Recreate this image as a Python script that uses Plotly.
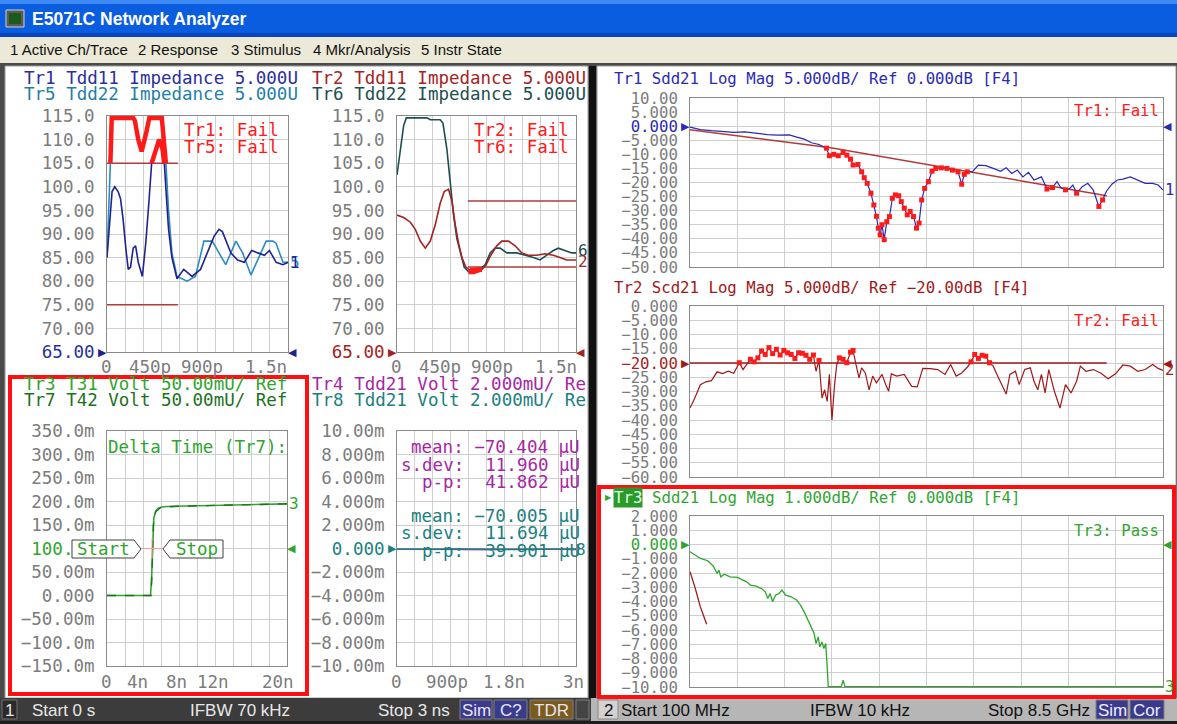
import numpy as np
import plotly.graph_objects as go

W, H = 1177, 724
MONO = "DejaVu Sans Mono, monospace"
SANS = "Liberation Sans, Arial, sans-serif"

# ======================= DATA =======================
# Channel 1 / window 1 : impedance (ohm) vs time (ns)
tr1_time = [0, 0.022, 0.042, 0.064, 0.092, 0.112, 0.134, 0.156, 0.176, 0.195, 0.217, 0.237, 0.259, 0.293,
            0.321, 0.348, 0.370, 0.404, 0.432, 0.460, 0.475, 0.492, 0.510, 0.538, 0.580, 0.636, 0.705, 0.775,
            0.831, 0.887, 0.928, 0.956, 1.026, 1.082, 1.138, 1.199, 1.249, 1.305, 1.346, 1.402, 1.458, 1.500]
tr1_tdd11 = [85, 92, 99, 100, 99, 97.5, 93, 87, 82.5, 83, 87, 87.5, 84, 81, 88, 97, 105, 107.5, 110, 108,
             105, 98, 91, 85, 80.5, 82.5, 81, 82.5, 86, 89.5, 91, 90.5, 86, 84.5, 84, 86.5, 86, 85.5, 86.5,
             84, 83.5, 84]
tr5_time = [0, 0.017, 0.028, 0.039, 0.217, 0.231, 0.259, 0.287, 0.321, 0.351, 0.454, 0.474, 0.488, 0.510,
            0.538, 0.580, 0.664, 0.733, 0.803, 0.873, 0.928, 0.984, 1.068, 1.124, 1.193, 1.277, 1.319, 1.374,
            1.402, 1.458, 1.500]
tr5_tdd22 = [85, 95, 105, 114.6, 114.6, 114, 110, 107.5, 111, 114.6, 114.6, 110, 105, 95, 86, 81, 80, 81,
             88.5, 88.5, 86, 83.5, 88.5, 86, 81.3, 86, 88.5, 88.5, 88, 84, 84]
lim1_time = [0.0, 0.588]
lim1_upper = [105, 105]
lim1_lower = [75, 75]

# Channel 1 / window 2
tr6_time = [0, 0.028, 0.056, 0.078, 0.251, 0.279, 0.362, 0.385, 0.418, 0.446, 0.474, 0.502, 0.530, 0.563,
            0.599, 0.641, 0.697, 0.739, 0.781, 0.822, 0.864, 0.920, 1.004, 1.087, 1.143, 1.199, 1.255, 1.310,
            1.352, 1.408, 1.464, 1.500]
tr6_tdd22 = [102.5, 108, 113, 114.6, 114.6, 114.2, 114.2, 113.5, 108, 101, 94, 89, 86, 83, 82, 82, 82.5,
             83.5, 86, 87, 87, 86, 86, 85.5, 85, 84.5, 85.5, 86.5, 87, 86.5, 86, 86]
tr2_time = [0, 0.056, 0.112, 0.153, 0.195, 0.237, 0.279, 0.321, 0.362, 0.396, 0.432, 0.460, 0.488, 0.516,
            0.544, 0.577, 0.613, 0.669, 0.711, 0.747, 0.786, 0.836, 0.878, 0.934, 0.990, 1.045, 1.101, 1.171,
            1.241, 1.310, 1.366, 1.422, 1.500]
tr2_tdd11 = [94, 93.5, 92.5, 91, 88.5, 87, 88.5, 92, 96.5, 99, 99.5, 97, 92, 88, 85, 83, 82.3, 82.3, 82.5,
             83.5, 85.5, 87.5, 88.5, 88.5, 87.5, 86, 85.5, 85.5, 85.8, 85.5, 85, 84.5, 84.5]
lim2_time = [0.594, 1.5]
lim2_upper = [97, 97]
lim2_lower = [83, 83]

# Channel 1 / window 3 : step voltage (V) vs time (ns)
tr3_time = [0, 4.83, 4.94, 5.06, 5.2, 5.43, 5.69, 6.25, 7.36, 10.33, 14.05, 17.77, 20]
tr3_volt = [0, 0, 0.03, 0.10, 0.165, 0.18, 0.186, 0.189, 0.19, 0.191, 0.193, 0.194, 0.195]
tr7_time = [0, 4.9, 5.0, 5.15, 5.4, 6.0, 8.0, 12.0, 16.0, 20]
tr7_volt = [0, 0, 0.05, 0.15, 0.178, 0.188, 0.19, 0.192, 0.194, 0.195]
delta_marker = (5.0, 0.1)

# Channel 1 / window 4 : crosstalk voltage (V) vs time (ns)
tr4_time = [0, 0.3, 0.6, 0.9, 1.2, 1.5, 1.8, 2.1, 2.4, 2.7, 3.0]
tr4_volt = [-6.0e-5, -8.5e-5, -7.0e-5, -5.5e-5, -8.0e-5, -7.2e-5, -6.5e-5, -9.0e-5, -6.8e-5, -5.8e-5, -7.4e-5]
tr8_volt = [-6.5e-5, -7.5e-5, -8.0e-5, -6.0e-5, -7.0e-5, -7.8e-5, -6.2e-5, -8.4e-5, -6.6e-5, -6.4e-5, -7.0e-5]

# Channel 2 : frequency (GHz)
sdd21_freq = [0.100, 0.284, 0.482, 0.679, 0.877, 1.074, 1.272, 1.469, 1.667, 1.864, 1.996, 2.128, 2.259,
              2.391, 2.523, 2.575, 2.654, 2.733, 2.819, 2.885, 2.950, 2.996, 3.082, 3.148, 3.194, 3.247,
              3.313, 3.365, 3.411, 3.444, 3.477, 3.510, 3.549, 3.595, 3.642, 3.694, 3.747, 3.806, 3.852,
              3.905, 3.958, 4.010, 4.070, 4.122, 4.168, 4.214, 4.267, 4.333, 4.399, 4.465, 4.563, 4.662,
              4.761, 4.860, 4.925, 4.971, 5.024, 5.123, 5.222, 5.353, 5.485, 5.617, 5.715, 5.814, 5.913,
              6.012, 6.110, 6.209, 6.341, 6.439, 6.538, 6.617, 6.683, 6.768, 6.834, 6.900, 6.966, 7.065,
              7.164, 7.262, 7.361, 7.427, 7.493, 7.592, 7.690, 7.789, 7.921, 8.052, 8.184, 8.316, 8.414, 8.500]
sdd21_db = [-0.3, -1.2, -1.6, -1.8, -2.2, -2.0, -2.6, -3.0, -3.2, -3.1, -3.9, -4.6, -5.9, -6.5, -7.8,
            -10.5, -10, -10.5, -9.3, -10.3, -11.7, -13.8, -13.6, -16.2, -18.3, -20.3, -23.8, -28, -32,
            -36.2, -38.6, -35, -40.3, -33.9, -32.1, -25.6, -24.4, -24.7, -26.8, -29.1, -31.5, -30.3, -32.1,
            -36.2, -34.4, -26.2, -22.1, -19.7, -16, -15, -14.8, -15, -15.6, -16.2, -20.6, -17.1, -16.2, -16,
            -13.8, -14, -15, -16, -14.8, -16.8, -15.6, -18, -16.4, -19.1, -18, -22.3, -21.8, -19.7, -21.8,
            -22.6, -22.3, -20.9, -23.8, -21.5, -20.3, -22.7, -28.5, -26.2, -23.2, -20.6, -19.1, -18.8, -18,
            -19.1, -20.3, -20.3, -20.9, -22.7]
sdd21_lim_freq = [0.1, 2.6, 7.5]
sdd21_lim_db = [-1.3, -7.7, -24.7]

scd21_freq = [0.100, 0.186, 0.284, 0.383, 0.482, 0.581, 0.679, 0.778, 0.877, 0.976, 1.041, 1.107, 1.173,
              1.239, 1.305, 1.371, 1.436, 1.502, 1.568, 1.634, 1.700, 1.766, 1.831, 1.897, 1.963, 2.029,
              2.095, 2.160, 2.226, 2.292, 2.338, 2.391, 2.444, 2.490, 2.536, 2.575, 2.621, 2.667, 2.707,
              2.753, 2.819, 2.885, 2.950, 2.996, 3.049, 3.102, 3.148, 3.214, 3.280, 3.345, 3.411, 3.510,
              3.576, 3.628, 3.675, 3.773, 3.905, 4.037, 4.135, 4.234, 4.366, 4.497, 4.629, 4.728, 4.827,
              4.925, 5.024, 5.090, 5.156, 5.222, 5.287, 5.353, 5.419, 5.485, 5.551, 5.650, 5.715, 5.781,
              5.880, 5.946, 6.044, 6.143, 6.209, 6.275, 6.341, 6.406, 6.472, 6.571, 6.670, 6.768, 6.867,
              6.966, 7.032, 7.131, 7.262, 7.394, 7.526, 7.657, 7.789, 7.921, 8.052, 8.184, 8.316, 8.414, 8.500]
scd21_db = [-35.8, -32.3, -27.6, -26.6, -26.2, -23.1, -23.7, -22.9, -23.6, -19.9, -22.3, -20.7, -18.7,
            -19.6, -18.2, -15.8, -17, -14.6, -16.7, -15.2, -17.2, -15.6, -16.4, -17, -18.4, -16.4, -16.6,
            -17.3, -18.7, -17.2, -22.9, -19.1, -32.3, -29.4, -33.5, -24, -40, -27.6, -20.5, -18.2, -18.7,
            -19.9, -16.2, -15.6, -20.7, -25.2, -21.7, -23.5, -29.4, -24.6, -27, -24, -27.6, -29.9, -23.8,
            -24.6, -24, -28.2, -28.4, -21.9, -22, -22.3, -24, -20.5, -24.6, -23.5, -21.5, -19.6, -17, -18.4,
            -17.3, -17.6, -19.9, -21.1, -24, -28.2, -30.9, -24, -22.9, -27.6, -22.3, -21.7, -26.4, -29.4,
            -24, -30.5, -22.3, -29.9, -35.8, -27.6, -30.5, -26.4, -21.1, -22.9, -22.3, -23.5, -25.5, -23.8,
            -20.7, -21.1, -22.9, -22.3, -20.5, -21.9, -22.6]
scd21_lim_freq = [0.1, 7.5]
scd21_lim_db = [-20, -20]

tr3c2_freq = [0.100, 0.186, 0.284, 0.416, 0.515, 0.581, 0.614, 0.646, 0.712, 0.811, 0.943, 1.041, 1.107,
              1.173, 1.272, 1.371, 1.436, 1.482, 1.522, 1.568, 1.621, 1.680, 1.733, 1.798, 1.897, 1.996,
              2.062, 2.128, 2.193, 2.259, 2.305, 2.338, 2.378, 2.404, 2.444, 2.477, 2.510, 2.536, 2.555,
              2.786, 2.819, 2.852, 8.500]
tr3c2_db = [-0.51, -0.74, -0.98, -1.14, -1.52, -2.03, -1.80, -2.27, -2.08, -2.27, -2.31, -2.50, -2.62,
            -2.85, -2.92, -3.09, -3.32, -3.79, -3.44, -4.02, -3.55, -3.44, -3.20, -3.55, -3.67, -3.91, -4.26,
            -4.73, -5.31, -5.78, -6.25, -6.95, -6.48, -7.19, -6.84, -7.30, -6.95, -8.59, -9.98, -9.98, -9.53,
            -9.98, -9.98]
red_short_freq = [0.100, 0.186, 0.284, 0.350, 0.396]
red_short_db = [-1.91, -2.97, -4.38, -5.08, -5.59]

# tick labels
imp_ticks = [65, 70, 75, 80, 85, 90, 95, 100, 105, 110, 115]
imp_labels = ["65.00", "70.00", "75.00", "80.00", "85.00", "90.00", "95.00", "100.0", "105.0", "110.0", "115.0"]
v50_ticks = [-0.15, -0.10, -0.05, 0, 0.05, 0.10, 0.15, 0.20, 0.25, 0.30, 0.35]
v50_labels = ["−150.0m", "−100.0m", "−50.00m", "0.000", "50.00m", "100.0m", "150.0m", "200.0m", "250.0m",
              "300.0m", "350.0m"]
v2_ticks = [-0.010, -0.008, -0.006, -0.004, -0.002, 0, 0.002, 0.004, 0.006, 0.008, 0.010]
v2_labels = ["−10.00m", "−8.000m", "−6.000m", "−4.000m", "−2.000m", "0.000", "2.000m", "4.000m", "6.000m",
             "8.000m", "10.00m"]
r1_ticks = [-50, -45, -40, -35, -30, -25, -20, -15, -10, -5, 0, 5, 10]
r1_labels = ["−50.00", "−45.00", "−40.00", "−35.00", "−30.00", "−25.00", "−20.00", "−15.00", "−10.00",
             "−5.000", "0.000", "5.000", "10.00"]
r2_ticks = [-60, -55, -50, -45, -40, -35, -30, -25, -20, -15, -10, -5, 0]
r2_labels = ["−60.00", "−55.00", "−50.00", "−45.00", "−40.00", "−35.00", "−30.00", "−25.00", "−20.00",
             "−15.00", "−10.00", "−5.000", "0.000"]
r3_ticks = [-10, -9, -8, -7, -6, -5, -4, -3, -2, -1, 0, 1, 2]
r3_labels = ["−10.00", "−9.000", "−8.000", "−7.000", "−6.000", "−5.000", "−4.000", "−3.000", "−2.000",
             "−1.000", "0.000", "1.000", "2.000"]

# ======================= STYLE =======================
NAVY_T, NAVY = "#2b2f9e", "#1f2392"
TEAL5_T, TEAL5 = "#1f7fa6", "#2b8cbf"
DRED = "#a52323"
SLATE = "#1d4f4f"
GREEN = "#2ea52e"
DGREEN = "#1c721c"
MAG = "#a626a6"
TEAL8 = "#1b7f7f"
RED = "#ff1a1a"
LIM = "#b23a3a"
TICK = "#7c7c7c"
GRID = "#cfcfcf"
FRAME = "#8a8a8a"
RNAVY = "#2a2ab5"

fig = go.Figure()
shapes, annotations = [], []


def rect(x0, y0, x1, y1, fill=None, line=None, lw=0, layer="below"):
    shapes.append(dict(type="rect", xref="paper", yref="paper", x0=x0 / W, x1=x1 / W, y0=1 - y1 / H,
                       y1=1 - y0 / H, fillcolor=fill or "rgba(0,0,0,0)",
                       line=dict(color=line or "rgba(0,0,0,0)", width=lw), layer=layer))


def poly(pts, fill, line, lw=1, layer="above"):
    path = "M " + " L ".join(f"{x / W:.5f},{1 - y / H:.5f}" for x, y in pts) + " Z"
    shapes.append(dict(type="path", xref="paper", yref="paper", path=path, fillcolor=fill,
                       line=dict(color=line, width=lw), layer=layer))


def text(x, y, s, color, size, family=MONO, xanchor="left", **kw):
    annotations.append(dict(x=x / W, y=1 - y / H, xref="paper", yref="paper", text=s, showarrow=False,
                            xanchor=xanchor, yanchor="middle",
                            font=dict(family=family, size=size, color=color), **kw))


# ---- window chrome ----
rect(0, 0, W, 37, fill="#0b5de0")
rect(0, 0, W, 4, fill="#3d8af7")
rect(0, 33, W, 37, fill="#0846c0")
rect(6, 10, 24, 27, fill="#5a5a5a", line="#d0d0d0", lw=1)
rect(9, 13, 21, 24, fill="#1c5a1c")
text(30, 19, "<b>E5071C Network Analyzer</b>", "white", 17.5, family=SANS)
rect(0, 37, W, 63, fill="#ece9d8")
for xm, s in [(8, "1 Active Ch/Trace"), (136, "2 Response"), (229, "3 Stimulus"), (311, "4 Mkr/Analysis"),
              (419, "5 Instr State")]:
    text(xm, 49, s, "#111111", 15, family=SANS)

rect(5, 66, 588, 698, fill="white", line="#9a9a9a", lw=1)
rect(589, 66, 596, 698, fill="#111111")
rect(597, 66, 1176, 698, fill="white", line="#9a9a9a", lw=1)

# status bars
SB = 17
rect(0, 698, 591, 721, fill="#3c3c3c")
rect(2, 700, 17, 719, fill="#2a2a2a", line="#707070", lw=1)
text(9.5, 710, "1", "#e8e8e8", SB, family=SANS, xanchor="center")
text(30, 710, "Start 0 s", "#e8e8e8", SB, family=SANS)
text(188, 710, "IFBW 70 kHz", "#e8e8e8", SB, family=SANS)
text(376, 710, "Stop 3 ns", "#e8e8e8", SB, family=SANS)
for x0, x1, s, bg in [(460, 492, "Sim", "#3b3b8e"), (494, 527, "C?", "#3b3b8e"), (530, 573, "TDR", "#7c5b1c")]:
    rect(x0, 700, x1, 719, fill=bg, line="#808080", lw=1)
    text((x0 + x1) / 2, 710, s, "#e6e6f0", SB, family=SANS, xanchor="center")
rect(576, 700, 589, 719, fill="#444444", line="#808080", lw=1)
rect(591, 698, W, 721, fill="#b6b6b6")
rect(598, 700, 618, 719, fill="#d2d2d2", line="#8a8a8a", lw=1)
text(608, 710, "2", "#111111", SB, family=SANS, xanchor="center")
text(619, 710, "Start 100 MHz", "#111111", SB, family=SANS)
text(808, 710, "IFBW 10 kHz", "#111111", SB, family=SANS)
text(986, 710, "Stop 8.5 GHz", "#111111", SB, family=SANS)
for x0, x1, s in [(1096, 1128, "Sim"), (1130, 1164, "Cor")]:
    rect(x0, 700, x1, 719, fill="#3b3b8e", line="#808080", lw=1)
    text((x0 + x1) / 2, 710, s, "#eeeeff", SB, family=SANS, xanchor="center")
rect(0, 721, W, H, fill="#1e1e1e")

# active window highlight
rect(10, 377, 307, 694, line="#ff1010", lw=4, layer="above")
rect(599, 487, 1174, 697, line="#ff1010", lw=4, layer="above")

# ---- subplots ----
boxes = {
    1: (107, 288, 116, 352), 2: (397, 576, 116, 352), 3: (107, 287, 431, 666), 4: (397, 576, 431, 666),
    5: (690, 1163, 98, 267), 6: (690, 1163, 306, 477), 7: (690, 1163, 516, 687),
}


def colored(labels, ref_idx, color):
    out = []
    for i, s in enumerate(labels):
        out.append(f'<span style="color:{color}">{s}</span>' if i == ref_idx else s)
    return out


FS = 17.5
RS = 15.7
axes_cfg = {
    1: dict(xr=[0, 1.5], xg=[0.15 * k for k in range(11)], yr=[65, 115], yt=imp_ticks,
            yl=colored(imp_labels, 0, NAVY_T), fs=FS),
    2: dict(xr=[0, 1.5], xg=[0.15 * k for k in range(11)], yr=[65, 115], yt=imp_ticks,
            yl=colored(imp_labels, 0, DRED), fs=FS),
    3: dict(xr=[0, 20], xg=[2 * k for k in range(11)], yr=[-0.15, 0.35], yt=v50_ticks,
            yl=colored(v50_labels, 5, GREEN), fs=FS),
    4: dict(xr=[0, 3], xg=[0.3 * k for k in range(11)], yr=[-0.01, 0.01], yt=v2_ticks,
            yl=colored(v2_labels, 5, TEAL8), fs=FS),
    5: dict(xr=[0.1, 8.5], xg=[0.1 + 0.84 * k for k in range(11)], yr=[-50, 10], yt=r1_ticks,
            yl=colored(r1_labels, 10, RNAVY), fs=RS),
    6: dict(xr=[0.1, 8.5], xg=[0.1 + 0.84 * k for k in range(11)], yr=[-60, 0], yt=r2_ticks,
            yl=colored(r2_labels, 8, DRED), fs=RS),
    7: dict(xr=[0.1, 8.5], xg=[0.1 + 0.84 * k for k in range(11)], yr=[-10, 2], yt=r3_ticks,
            yl=colored(r3_labels, 10, GREEN), fs=RS),
}

layout_axes = {}
for n, (x0, x1, y0, y1) in boxes.items():
    c = axes_cfg[n]
    sx = "" if n == 1 else str(n)
    layout_axes[f"xaxis{sx}"] = dict(
        domain=[x0 / W, x1 / W], range=c["xr"], anchor=f"y{sx}", tickmode="array", tickvals=c["xg"],
        showticklabels=False, ticks="", showgrid=True, gridcolor=GRID, gridwidth=1, showline=True,
        linecolor=FRAME, linewidth=1, mirror=True, zeroline=False, fixedrange=True, automargin=False)
    layout_axes[f"yaxis{sx}"] = dict(
        domain=[1 - y1 / H, 1 - y0 / H], range=c["yr"], anchor=f"x{sx}", tickmode="array",
        tickvals=c["yt"], ticktext=c["yl"], ticks="", ticklabelstandoff=8,
        tickfont=dict(family=MONO, size=c["fs"], color=TICK), showgrid=True, gridcolor=GRID, gridwidth=1,
        showline=True, linecolor=FRAME, linewidth=1, mirror=True, zeroline=False, fixedrange=True,
        automargin=False)


def line(n, x, y, color, width=1.5, dash="solid", mode="lines", marker=None):
    sx = "" if n == 1 else str(n)
    kw = dict(x=x, y=y, xaxis=f"x{sx}", yaxis=f"y{sx}", mode=mode, hoverinfo="skip", showlegend=False)
    if "lines" in mode:
        kw["line"] = dict(color=color, width=width, dash=dash)
    if marker:
        kw["marker"] = marker
    fig.add_trace(go.Scatter(**kw))


# window 1
line(1, lim1_time, lim1_upper, LIM, 1.5)
line(1, lim1_time, lim1_lower, LIM, 1.5)
line(1, tr5_time, tr5_tdd22, TEAL5, 1.6)
line(1, tr1_time, tr1_tdd11, NAVY, 1.6)
for t, v in [(tr5_time, tr5_tdd22), (tr1_time, tr1_tdd11)]:
    v = np.array(v, dtype=float)
    fail = np.where(v >= lim1_upper[0], v, np.nan)
    line(1, t, fail, RED, 4.5)

# window 2
line(2, lim2_time, lim2_upper, LIM, 1.5)
line(2, lim2_time, lim2_lower, LIM, 1.5)
line(2, tr6_time, tr6_tdd22, SLATE, 1.6)
line(2, tr2_time, tr2_tdd11, DRED, 1.6)
for t, v in [(tr6_time, tr6_tdd22), (tr2_time, tr2_tdd11)]:
    t = np.array(t, dtype=float)
    v = np.array(v, dtype=float)
    m = (t >= lim2_time[0]) & ((v < lim2_lower[0]) | (v > lim2_upper[0]))
    line(2, t, np.where(m, v, np.nan), RED, 5)

# window 3
line(3, tr3_time, tr3_volt, GREEN, 1.6)
line(3, tr7_time, tr7_volt, DGREEN, 1.4, dash="dash")

# window 4
line(4, tr4_time, tr4_volt, MAG, 1.6)
line(4, tr4_time, tr8_volt, TEAL8, 1.6)

# channel 2 windows
line(5, sdd21_lim_freq, sdd21_lim_db, LIM, 1.5)
line(5, sdd21_freq, sdd21_db, RNAVY, 1.2)
f5 = np.array(sdd21_freq)
d5 = np.array(sdd21_db)
m5 = (f5 <= sdd21_lim_freq[-1]) & (d5 < np.interp(f5, sdd21_lim_freq, sdd21_lim_db))
line(5, f5[m5], d5[m5], RED, mode="markers", marker=dict(symbol="square", size=5, color=RED))

line(6, scd21_lim_freq, scd21_lim_db, "#a01818", 1.5)
line(6, scd21_freq, scd21_db, "#a01818", 1.2)
f6 = np.array(scd21_freq)
d6 = np.array(scd21_db)
m6 = (f6 <= scd21_lim_freq[-1]) & (d6 > scd21_lim_db[0])
line(6, f6[m6], d6[m6], RED, mode="markers", marker=dict(symbol="square", size=5, color=RED))

line(7, tr3c2_freq, tr3c2_db, "#2fa52f", 1.3)
line(7, red_short_freq, red_short_db, "#a01818", 1.3)

# ---- reference triangles and trace end labels ----
def tri(n, yv, color, left=True, right=True, size=11):
    sx = "" if n == 1 else str(n)
    if left:
        annotations.append(dict(x=0, y=yv, xref=f"x{sx} domain", yref=f"y{sx}", text="▶", showarrow=False,
                                xanchor="right", yanchor="middle", xshift=2,
                                font=dict(family="DejaVu Sans", size=size, color=color)))
    if right:
        annotations.append(dict(x=1, y=yv, xref=f"x{sx} domain", yref=f"y{sx}", text="◀", showarrow=False,
                                xanchor="left", yanchor="middle", xshift=-2,
                                font=dict(family="DejaVu Sans", size=size, color=color)))


def endlabel(n, yv, s, color, size=16, xshift=0):
    sx = "" if n == 1 else str(n)
    annotations.append(dict(x=1, y=yv, xref=f"x{sx} domain", yref=f"y{sx}", text=s, showarrow=False,
                            xanchor="left", yanchor="middle", xshift=xshift,
                            font=dict(family=MONO, size=size, color=color)))


tri(1, 65, NAVY)
tri(2, 65, DRED)
tri(3, delta_marker[1], GREEN, left=False)
tri(4, 0, TEAL8, right=False)
tri(5, 0, RNAVY)
tri(6, -20, "#a01818")
tri(7, 0, "#2fa52f")
endlabel(1, tr5_tdd22[-1], "5", TEAL5)
endlabel(1, tr1_tdd11[-1], "1", NAVY)
endlabel(2, tr6_tdd22[-1] + 0.6, "6", SLATE)
endlabel(2, tr2_tdd11[-1] - 0.3, "2", DRED)
endlabel(3, tr3_volt[-1], "3", GREEN)
endlabel(4, tr8_volt[-1], "8", TEAL8, xshift=-2)
endlabel(5, sdd21_db[-1], "1", RNAVY, 15.5)
endlabel(6, scd21_db[-1], "2", "#a01818", 15.5)
endlabel(7, tr3c2_db[-1], "3", "#2fa52f", 15.5)

# ---- header texts ----
text(22, 78, "Tr1 Tdd11 Impedance 5.000U", NAVY_T, FS)
text(22, 94, "Tr5 Tdd22 Impedance 5.000U", TEAL5_T, FS)
text(310, 78, "Tr2 Tdd11 Impedance 5.000U", DRED, FS)
text(310, 94, "Tr6 Tdd22 Impedance 5.000U", SLATE, FS)
text(22, 384, "Tr3 T31 Volt 50.00mU/ Ref", GREEN, FS)
text(22, 400, "Tr7 T42 Volt 50.00mU/ Ref", DGREEN, FS)
text(310, 384, "Tr4 Tdd21 Volt 2.000mU/ Re", MAG, FS)
text(310, 400, "Tr8 Tdd21 Volt 2.000mU/ Re", TEAL8, FS)

text(182, 130, "Tr1: Fail", RED, FS)
text(182, 147, "Tr5: Fail", RED, FS)
text(472, 130, "Tr2: Fail", RED, FS)
text(472, 147, "Tr6: Fail", RED, FS)
text(106, 447, "Delta Time (Tr7):", GREEN, FS)

# x tick labels for channel 1 windows
for y, items in [(367, [(106, "0"), (150, "450p"), (202, "900p"), (266, "1.5n")]),
                 (367, [(396, "0"), (440, "450p"), (492, "900p"), (556, "1.5n")]),
                 (682, [(106, "0"), (137, "4n"), (176, "8n"), (213, "12n"), (278, "20n")]),
                 (682, [(396, "0"), (447, "900p"), (504, "1.8n"), (573, "3n")])]:
    for xc, s in items:
        text(xc, y, s, TICK, FS, xanchor="center")

# statistics (window 4)
NB = "\u00a0"
for y, s, col in [(447, f"mean:{NB}−70.404{NB}µU", MAG), (465, f"s.dev:{NB}{NB}11.960{NB}µU", MAG),
                  (482, f"p-p:{NB}{NB}41.862{NB}µU", MAG), (516, f"mean:{NB}−70.005{NB}µU", TEAL8),
                  (533, f"s.dev:{NB}{NB}11.694{NB}µU", TEAL8), (551, f"p-p:{NB}{NB}39.901{NB}µU", TEAL8)]:
    text(582, y, s, col, FS, xanchor="right")

# delta marker (window 3)
dx, dy = delta_marker
shapes.append(dict(type="line", xref="x3", yref="y3", x0=dx - 1.22, x1=dx + 1.22, y0=dy, y1=dy,
                   line=dict(color="#ff9a9a", width=1), layer="above"))
shapes.append(dict(type="line", xref="x3", yref="y3", x0=dx, x1=dx, y0=dy - 0.021, y1=dy + 0.021,
                   line=dict(color="#ff9a9a", width=1), layer="above"))
poly([(72, 540), (134, 540), (141, 549), (134, 558), (72, 558)], "white", "#404040")
poly([(163, 549), (170, 540), (223, 540), (223, 558), (170, 558)], "white", "#404040")
text(103, 549, "Start", GREEN, FS, xanchor="center")
text(197, 549, "Stop", GREEN, FS, xanchor="center")

# channel 2 headers
text(612, 78, "Tr1 Sdd21 Log Mag 5.000dB/ Ref 0.000dB [F4]", RNAVY, RS)
text(612, 287, "Tr2 Scd21 Log Mag 5.000dB/ Ref −20.00dB [F4]", "#a01818", RS)
text(603, 497, "▶", "#2fa52f", 8, family="DejaVu Sans")
annotations.append(dict(x=613 / W, y=1 - 497 / H, xref="paper", yref="paper", text="Tr3", showarrow=False,
                        xanchor="left", yanchor="middle", bgcolor="#2a9a2a", borderpad=0,
                        font=dict(family=MONO, size=RS, color="#e8ffe8")))
text(650, 497, "Sdd21 Log Mag 1.000dB/ Ref 0.000dB [F4]", "#2fa52f", RS)
text(1161, 111, "Tr1: Fail", RED, RS, xanchor="right")
text(1161, 320, "Tr2: Fail", RED, RS, xanchor="right")
text(1161, 530, "Tr3: Pass", "#2fa52f", RS, xanchor="right")

fig.update_layout(
    width=W, height=H, autosize=False,
    margin=dict(l=0, r=0, t=0, b=0, pad=0, autoexpand=False),
    paper_bgcolor="#4a4a4a", plot_bgcolor="white", showlegend=False,
    shapes=shapes, annotations=annotations, **layout_axes,
)
fig.write_html(
    "out.html",
    config={"displayModeBar": False, "responsive": False},
    post_script="document.body.style.margin='0px';document.body.style.overflow='hidden';",
)
